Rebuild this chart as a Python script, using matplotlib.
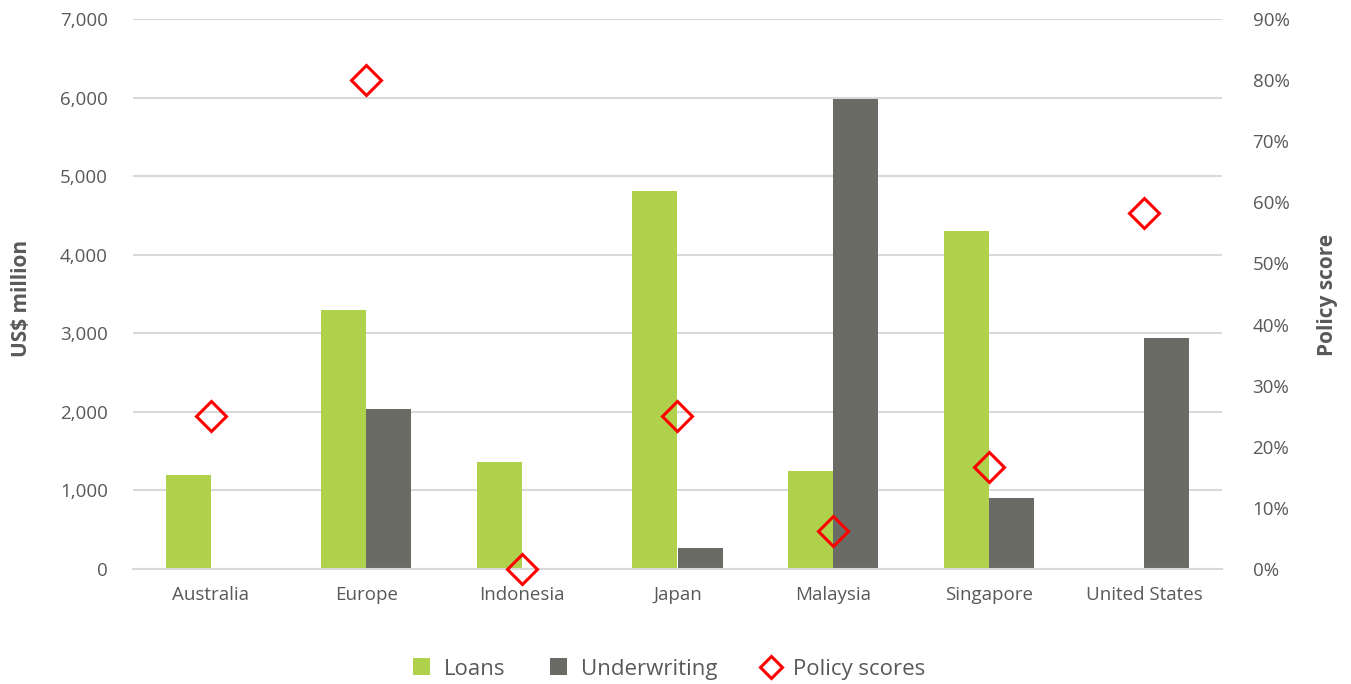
import matplotlib
matplotlib.use("Agg")
import matplotlib.pyplot as plt
import numpy as np
from matplotlib.ticker import FuncFormatter, MultipleLocator

categories = ["Australia", "Europe", "Indonesia", "Japan", "Malaysia", "Singapore", "United States"]
loans = [1200, 3300, 1360, 4810, 1250, 4300, 0]
underwriting = [0, 2040, 0, 270, 5980, 900, 2940]
policy_scores = [25.0, 80.0, 0.0, 25.0, 6.25, 16.7, 58.3]

plt.rcParams['font.family'] = ['Open Sans', 'DejaVu Sans']
txt = '#595959'
green = '#AFD14B'
gray = '#6B6B66'

fig = plt.figure(figsize=(13.51, 6.84), dpi=100)
ax = fig.add_axes([133/1351, 1-569/684, (1222-133)/1351, (569-19)/684])
ax2 = ax.twinx()

x = np.arange(len(categories))
w = 0.29
ax.bar(x - w/2, loans, w, color=green, label='Loans', zorder=2)
ax.bar(x + w/2, underwriting, w, color=gray, label='Underwriting', zorder=2)
ax.set_ylim(0, 7000)
ax.set_xlim(-0.5, len(categories) - 0.5)
ax.yaxis.set_major_locator(MultipleLocator(1000))
ax.yaxis.set_major_formatter(FuncFormatter(lambda v, p: f"{int(v):,}"))
ax.grid(axis='y', color='#D9D9D9', linewidth=1.5, zorder=0)
ax.set_axisbelow(True)
ax.set_xticks(x)
ax.set_xticklabels(categories)
for s in ax.spines.values():
    s.set_visible(False)
for s in ax2.spines.values():
    s.set_visible(False)
ax.spines['bottom'].set_visible(True)
ax.spines['bottom'].set_color('#D9D9D9')
ax.spines['bottom'].set_linewidth(1.5)
ax.tick_params(axis='both', length=0, labelsize=13.5, colors=txt)
ax.tick_params(axis='x', pad=12)
ax.tick_params(axis='y', pad=18)

ax2.plot(x, policy_scores, linestyle='none', marker='D', markersize=15,
         markerfacecolor='none', markeredgecolor='#FF0000', markeredgewidth=2.2,
         label='Policy scores', zorder=3, clip_on=False)
ax2.set_ylim(0, 90)
ax2.yaxis.set_major_locator(MultipleLocator(10))
ax2.yaxis.set_major_formatter(FuncFormatter(lambda v, p: f"{int(round(v))}%"))
ax2.tick_params(axis='y', length=0, labelsize=13.5, colors=txt, pad=22)

fig.text(22/1351, 1-298/684, 'US$ million', rotation=90, ha='center', va='center',
         fontsize=15, fontweight='bold', color=txt)
fig.text(1328/1351, 1-295/684, 'Policy score', rotation=90, ha='center', va='center',
         fontsize=15, fontweight='bold', color=txt)

h1, l1 = ax.get_legend_handles_labels()
h2, l2 = ax2.get_legend_handles_labels()
leg = fig.legend(h1 + h2, l1 + l2, loc='center', bbox_to_anchor=(0.495, 1-669/684), ncol=3,
                 frameon=False, fontsize=16, handlelength=0.8, handleheight=0.8,
                 columnspacing=2.0, handletextpad=0.6, labelcolor=txt, markerscale=0.75)
fig.savefig('out.png', dpi=100, facecolor='white')
